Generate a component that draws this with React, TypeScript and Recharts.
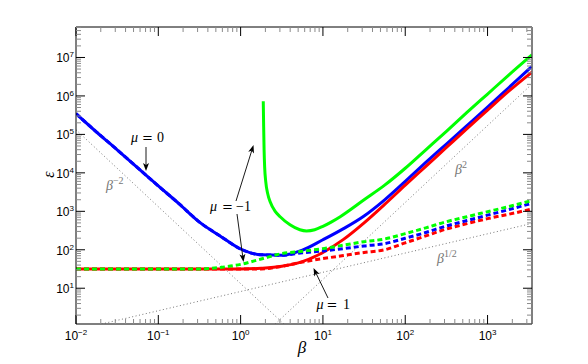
import React from 'react';
import { LineChart, Line, XAxis, YAxis } from 'recharts';

// beta grid (x values) shared by most series
const beta = [0.01, 0.01778, 0.03162, 0.05623, 0.1, 0.1778, 0.3162, 0.5623, 1, 1.778, 3.162, 5.623, 10, 17.78, 31.62, 56.23, 100, 177.8, 316.2, 562.3, 1000, 1778, 3467];

// mu = 0 (blue), solid
const epsBlueSolid = [346700, 114800, 39810, 13490, 4571, 1585, 524.8, 229.1, 104.7, 74.1, 72.4, 97.7, 182.0, 354.8, 758.6, 1995, 6026, 18620, 56230, 169800, 512900, 1585000, 5888000];
// mu = 1 (red), solid
const epsRedSolid = [31.62, 31.62, 31.62, 31.62, 31.62, 31.62, 31.62, 31.62, 31.62, 33.1, 37.2, 49.0, 85.1, 186.2, 501.2, 1514, 4786, 14790, 45710, 141300, 426600, 1288000, 4169000];
// mu = -1 (green), solid, own beta grid
const betaGreenSolid = [1.884, 1.905, 1.928, 1.959, 2.018, 2.138, 2.291, 2.630, 3.020, 3.981, 5.248, 6.310, 7.943, 10, 12.59, 16.22, 31.62, 56.23, 100, 177.8, 316.2, 562.3, 1000, 1778, 3467];
const epsGreenSolid = [724400, 158500, 39810, 14130, 6026, 2818, 1738, 1000, 724.4, 446.7, 331.1, 309.0, 331.1, 407.4, 524.8, 724.4, 1995, 4786, 13180, 39810, 120200, 371500, 1122000, 3388000, 11750000];

// dashed counterparts
const epsBlueDashed = [346700, 114800, 39810, 13490, 4571, 1585, 524.8, 229.1, 104.7, 74.1, 72.4, 83.2, 93.3, 107.2, 125.9, 144.5, 199.5, 281.8, 416.9, 575.4, 794.3, 1096, 1622];
const epsRedDashed = [31.62, 31.62, 31.62, 31.62, 31.62, 31.62, 31.62, 31.62, 31.62, 31.62, 37.2, 47.9, 58.9, 70.8, 85.1, 100, 151.4, 229.1, 346.7, 478.6, 645.7, 831.8, 1148];
const epsGreenDashed = [31.62, 31.62, 31.62, 31.62, 31.62, 31.62, 31.62, 34.7, 41.7, 57.5, 79.4, 91.2, 107.2, 131.8, 162.2, 190.5, 263.0, 371.5, 537.0, 724.4, 977.2, 1318, 1905];

// asymptote guides (dotted)
const betaGuideMinus2 = [0.01, 3.35];
const epsGuideMinus2 = [131800, 1.175];
const betaGuide2 = [2.63, 3467];
const epsGuide2 = [1.175, 2042000];
const betaGuideHalf = [0.0204, 3467];
const epsGuideHalf = [1.175, 484];

// axes
const xDomain = [0.01, 3467];
const yDomain = [1.175, 6.2e7];
const xDecades = [-2, -1, 0, 1, 2, 3];
const yDecades = [0, 1, 2, 3, 4, 5, 6, 7];
const minorMultipliers = [1, 2, 3, 4, 5, 6, 7, 8, 9];

const buildTicks = (decades: number[], dom: number[]) => {
  const out: number[] = [];
  decades.forEach((d) => minorMultipliers.forEach((m) => {
    const v = m * Math.pow(10, d);
    if (v >= dom[0] * 0.999 && v <= dom[1] * 1.001) out.push(v);
  }));
  return out;
};
const xTicks = buildTicks(xDecades, xDomain);
const yTicks = buildTicks(yDecades, yDomain);

const zip = (xs: number[], ys: number[]) => xs.map((x, i) => ({ x, y: ys[i] }));

const isMajor = (v: number) => Math.abs(Math.log10(v) - Math.round(Math.log10(v))) < 1e-6;
const expLabel = (v: number) => {
  const e = Math.round(Math.log10(v));
  return e < 0 ? '\u2212' + -e : String(e);
};

const SANS = '"Liberation Sans", Arial, Helvetica, sans-serif';
const SERIF = '"Liberation Serif", "Times New Roman", serif';

const makeTick = (side: 'bottom' | 'top' | 'left' | 'right') => (props: any) => {
  const { x, y, payload } = props;
  const v = payload.value;
  const major = isMajor(v);
  const len = major ? 9 : 5;
  const color = major ? '#000' : '#8a8a8a';
  let x2 = x, y2 = y;
  if (side === 'bottom') y2 = y - len;
  if (side === 'top') y2 = y + len;
  if (side === 'left') x2 = x + len;
  if (side === 'right') x2 = x - len;
  let label = null;
  if (major && side === 'bottom') {
    label = (
      <text x={x} y={y + 16} textAnchor="middle" fontFamily={SANS} fontSize={12} fill="#000">
        10<tspan dy={-5} fontSize={8}>{expLabel(v)}</tspan>
      </text>
    );
  }
  if (major && side === 'left') {
    label = (
      <text x={x - 2} y={y + 5} textAnchor="end" fontFamily={SANS} fontSize={12} fill="#000">
        10<tspan dy={-5} fontSize={8}>{expLabel(v)}</tspan>
      </text>
    );
  }
  return (
    <g>
      <line x1={x} y1={y} x2={x2} y2={y2} stroke={color} strokeWidth={1} />
      {label}
    </g>
  );
};

const Arrow = ({ x1, y1, x2, y2 }: { x1: number; y1: number; x2: number; y2: number }) => {
  const a = Math.atan2(y2 - y1, x2 - x1);
  const L = 8, W = 3;
  const bx = x2 - L * Math.cos(a), by = y2 - L * Math.sin(a);
  const nx = x2 - (L - 2) * Math.cos(a), ny = y2 - (L - 2) * Math.sin(a);
  const p1 = [bx + W * Math.sin(a), by - W * Math.cos(a)];
  const p2 = [bx - W * Math.sin(a), by + W * Math.cos(a)];
  return (
    <g>
      <line x1={x1} y1={y1} x2={nx} y2={ny} stroke="#000" strokeWidth={0.9} />
      <polygon points={`${x2},${y2} ${p1[0]},${p1[1]} ${nx},${ny} ${p2[0]},${p2[1]}`} fill="#000" />
    </g>
  );
};

const MuLabel = ({ xs, y, value }: { xs: number[]; y: number; value: string }) => (
  <g fontFamily={SERIF} fontSize={14} fill="#000">
    <text x={xs[0]} y={y} fontStyle="italic">μ</text>
    <text x={xs[1]} y={y} fontFamily='"DejaVu Serif", serif' fontSize={13}>=</text>
    <text x={xs[2]} y={y}>{value}</text>
  </g>
);

const lineCommon = {
  xAxisId: 'b',
  yAxisId: 'l',
  dataKey: 'y',
  dot: false,
  activeDot: false,
  isAnimationActive: false,
  type: 'monotone' as const,
};

export default function App() {
  return (
    <div style={{ position: 'absolute', left: 0, top: 0, width: 588, height: 364, background: '#fff' }}>
      <LineChart width={588} height={364} margin={{ top: 0, right: 0, bottom: 0, left: 0 }}>
        <XAxis xAxisId="b" type="number" dataKey="x" scale="log" domain={xDomain} allowDataOverflow
          ticks={xTicks} interval={0} tickSize={0} tickMargin={0} tickLine={false}
          tick={makeTick('bottom')} axisLine={{ stroke: '#555', strokeWidth: 1.5 }} height={40} orientation="bottom" />
        <XAxis xAxisId="t" type="number" dataKey="x" scale="log" domain={xDomain} allowDataOverflow
          ticks={xTicks} interval={0} tickSize={0} tickMargin={0} tickLine={false}
          tick={makeTick('top')} axisLine={{ stroke: '#000', strokeWidth: 1 }} height={27} orientation="top" />
        <YAxis yAxisId="l" type="number" scale="log" domain={yDomain} allowDataOverflow
          ticks={yTicks} interval={0} tickSize={0} tickMargin={0} tickLine={false}
          tick={makeTick('left')} axisLine={{ stroke: '#000', strokeWidth: 1 }} width={76} orientation="left" />
        <YAxis yAxisId="r" type="number" scale="log" domain={yDomain} allowDataOverflow
          ticks={yTicks} interval={0} tickSize={0} tickMargin={0} tickLine={false}
          tick={makeTick('right')} axisLine={{ stroke: '#555', strokeWidth: 1.5 }} width={56} orientation="right" />

        <Line {...lineCommon} data={zip(betaGuideMinus2, epsGuideMinus2)} stroke="#777" strokeWidth={1} strokeDasharray="1 2.5" type="linear" />
        <Line {...lineCommon} data={zip(betaGuide2, epsGuide2)} stroke="#777" strokeWidth={1} strokeDasharray="1 2.5" type="linear" />
        <Line {...lineCommon} data={zip(betaGuideHalf, epsGuideHalf)} stroke="#777" strokeWidth={1} strokeDasharray="1 2.5" type="linear" />

        <Line {...lineCommon} data={zip(betaGreenSolid, epsGreenSolid)} stroke="#00ff00" strokeWidth={3} />
        <Line {...lineCommon} data={zip(beta, epsBlueSolid)} stroke="#0000ff" strokeWidth={3} />
        <Line {...lineCommon} data={zip(beta, epsRedSolid)} stroke="#ff0000" strokeWidth={3} />

        <Line {...lineCommon} data={zip(beta, epsRedDashed)} stroke="#ff0000" strokeWidth={3} strokeDasharray="5 3" />
        <Line {...lineCommon} data={zip(beta, epsBlueDashed)} stroke="#0000ff" strokeWidth={3} strokeDasharray="5 3" />
        <Line {...lineCommon} data={zip(beta, epsGreenDashed)} stroke="#00ff00" strokeWidth={3} strokeDasharray="5 3" />
      </LineChart>

      <svg width={588} height={364} style={{ position: 'absolute', left: 0, top: 0, pointerEvents: 'none' }}>
        {/* axis titles */}
        <text x={302} y={353} textAnchor="middle" fontFamily={SERIF} fontStyle="italic" fontSize={17} fill="#000">β</text>
        <text transform="translate(54,174.5) rotate(-90)" textAnchor="middle" fontFamily={SERIF} fontStyle="italic" fontSize={16} fill="#000">ε</text>

        {/* mu labels and arrows */}
        <MuLabel xs={[131, 142, 157]} y={142} value="0" />
        <Arrow x1={146} y1={147} x2={146} y2={171} />

        <MuLabel xs={[210, 222, 236]} y={211} value={'\u22121'} />
        <Arrow x1={236} y1={201} x2={253.5} y2={145} />
        <Arrow x1={237} y1={214} x2={243.5} y2={262} />

        <MuLabel xs={[316.5, 326.5, 343]} y={308.5} value="1" />
        <Arrow x1={328} y1={298} x2={313.5} y2={268} />

        {/* asymptote labels */}
        <text x={106} y={190} fontFamily={SERIF} fontSize={14} fill="#777">
          <tspan fontStyle="italic">β</tspan><tspan dy={-6} fontSize={10}>{'\u22122'}</tspan>
        </text>
        <text x={455} y={174} fontFamily={SERIF} fontSize={14} fill="#777">
          <tspan fontStyle="italic">β</tspan><tspan dy={-6} fontSize={10}>2</tspan>
        </text>
        <text x={437} y={263} fontFamily={SERIF} fontSize={14} fill="#777">
          <tspan fontStyle="italic">β</tspan><tspan dy={-6} fontSize={10}>1/2</tspan>
        </text>
      </svg>
    </div>
  );
}
